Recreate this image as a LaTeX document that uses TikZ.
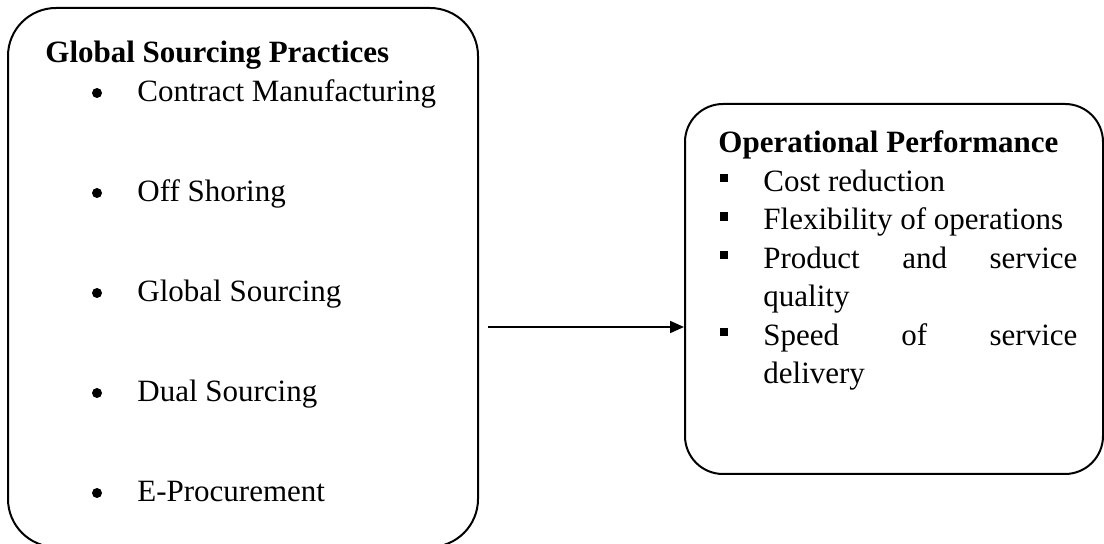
\documentclass[tikz,border=0pt]{standalone}
\usepackage{fontspec}
\setmainfont{Liberation Serif}
\usepackage{tikz}
\usetikzlibrary{arrows.meta}
\usetikzlibrary{positioning}

\tikzset{
  panel/.style={draw,line width=1pt,rounded corners=24pt,inner sep=0pt},
  txt/.style={anchor=base west,inner sep=0pt,font=\fontsize{15.5pt}{19pt}\selectfont},
  head/.style={txt,font=\fontsize{15.5pt}{19pt}\selectfont\bfseries},
  dot/.style={circle,fill,inner sep=0pt,minimum size=5pt},
  sq/.style={rectangle,fill,inner sep=0pt,minimum size=4.3pt}
}

\begin{document}
\begin{tikzpicture}[x=0.5pt,y=-0.5pt]
  \useasboundingbox (0,0) rectangle (1104,544);

  % left panel
  \node[panel,anchor=north west,minimum width=235pt,minimum height=269.5pt] (gsp) at (7,7) {};
  \node[head] (gsphead) at (45,63) {Global Sourcing Practices};
  \node[dot] (d1) at (97,93) {};
  \node[txt] (cm) at (137,102) {Contract Manufacturing};
  \node[dot] (d2) at (97,193) {};
  \node[txt] (os) at (137,202) {Off Shoring};
  \node[dot] (d3) at (97,293) {};
  \node[txt] (gs) at (137,302) {Global Sourcing};
  \node[dot] (d4) at (97,393) {};
  \node[txt] (ds) at (137,402) {Dual Sourcing};
  \node[dot] (d5) at (97,493) {};
  \node[txt] (ep) at (137,502) {E-Procurement};

  % right panel
  \node[panel,anchor=north west,minimum width=209pt,minimum height=185pt,rounded corners=19pt] (op) at (684,103) {};
  \node[head] (ophead) at (718,153) {Operational Performance};
  \node[sq] (s1) at (724,178) {};
  \node[txt] (cr) at (763,191.5) {Cost reduction};
  \node[sq] (s2) at (724,216.5) {};
  \node[txt] (fo) at (763,230) {Flexibility of operations};
  \node[sq] (s3) at (724,255) {};
  \node[txt] (ps) at (763,268.5) {\makebox[157pt][s]{Product and service}};
  \node[txt] (ql) at (763,307) {quality};
  \node[sq] (s4) at (724,332) {};
  \node[txt] (sd) at (763,345.5) {\makebox[157pt][s]{Speed of service}};
  \node[txt] (dl) at (763,384) {delivery};

  \coordinate (link) at (488,327);
  \draw[line width=1pt,-{Triangle[length=7pt,width=6pt]}] (link) -- (link -| op.west);
\end{tikzpicture}
\end{document}
